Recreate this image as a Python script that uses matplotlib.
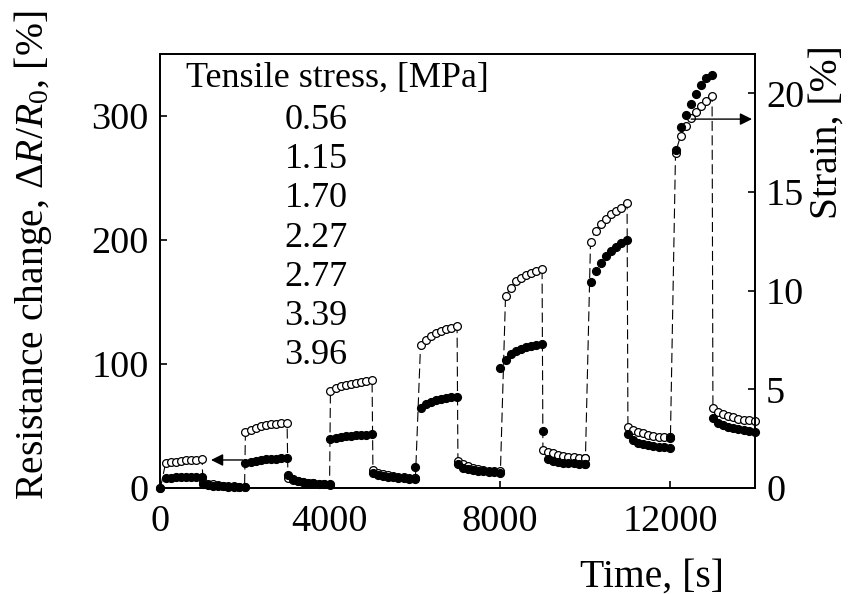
import numpy as np
import matplotlib.pyplot as plt

plt.rcParams['font.family'] = 'Liberation Serif'
plt.rcParams['mathtext.fontset'] = 'custom'
plt.rcParams['mathtext.rm'] = 'Liberation Serif'
plt.rcParams['mathtext.it'] = 'Liberation Serif:italic'
plt.rcParams['font.size'] = 27.5

# stress switched on / off every 1000 s, 9 readings per step
step_start = [0, 1000, 2000, 3000, 4000, 5000, 6000,
              7000, 8000, 9000, 10000, 11000, 12000, 13000]
sample_offset = [10, 130, 250, 370, 490, 610, 730, 850, 990]

stress_mpa = ['0.56', '1.15', '1.70', '2.27', '2.77', '3.39', '3.96']

# resistance change dR/R0 [%]
resistance = [
    0, 7.8, 8.2, 8.5, 8.7, 8.8, 8.9, 9.0, 9.1,                  # 0.56 on
    3.0, 2.4, 2.0, 1.7, 1.4, 1.2, 1.0, 0.8, 0.6,                # off
    20.4, 21.3, 22.0, 22.6, 23.0, 23.3, 23.6, 23.8, 24.0,       # 1.15 on
    10.5, 7.0, 5.5, 4.8, 4.2, 3.8, 3.5, 3.2, 3.0,               # off
    39.3, 40.5, 41.3, 41.8, 42.2, 42.5, 42.8, 43.0, 43.3,       # 1.70 on
    12.3, 10.5, 9.6, 9.0, 8.5, 8.1, 7.7, 7.4, 7.0,              # off
    17.0, 64.8, 67.5, 69.5, 70.8, 71.8, 72.6, 73.2, 73.6,       # 2.27 on
    19.1, 16.5, 15.3, 14.5, 13.9, 13.4, 13.0, 12.6, 12.3,       # off
    97.0, 103.2, 108.0, 110.5, 112.3, 113.6, 114.7, 115.6, 116.4,  # 2.77 on
    46.0, 23.1, 21.8, 21.0, 20.5, 20.1, 19.8, 19.5, 19.1,       # off
    19.5, 166.0, 175.0, 181.7, 187.0, 191.0, 194.5, 197.6, 200.3,  # 3.39 on
    43.5, 38.5, 36.5, 35.2, 34.3, 33.7, 33.2, 32.8, 32.5,       # off
    40.0, 272.3, 291.0, 300.6, 310.0, 317.5, 325.0, 331.0, 333.0,  # 3.96 on
    56.7, 52.5, 50.5, 49.0, 48.0, 47.2, 46.5, 45.9, 45.4,       # off
]

# strain [%]
strain = [
    0, 1.25, 1.30, 1.34, 1.37, 1.40, 1.42, 1.44, 1.46,
    0.30, 0.22, 0.18, 0.15, 0.12, 0.10, 0.08, 0.06, 0.05,
    2.85, 2.95, 3.05, 3.12, 3.18, 3.22, 3.26, 3.29, 3.32,
    0.50, 0.40, 0.34, 0.30, 0.26, 0.23, 0.20, 0.18, 0.16,
    4.90, 5.05, 5.15, 5.22, 5.28, 5.33, 5.38, 5.42, 5.46,
    0.90, 0.78, 0.70, 0.65, 0.60, 0.57, 0.54, 0.51, 0.49,
    0.50, 7.23, 7.50, 7.70, 7.85, 7.95, 8.05, 8.12, 8.20,
    1.37, 1.20, 1.10, 1.02, 0.96, 0.92, 0.88, 0.85, 0.82,
    0.85, 9.73, 10.13, 10.47, 10.65, 10.80, 10.92, 11.00, 11.08,
    1.95, 1.84, 1.75, 1.68, 1.62, 1.58, 1.55, 1.52, 1.50,
    1.50, 12.46, 13.05, 13.39, 13.66, 13.90, 14.06, 14.20, 14.43,
    3.07, 2.95, 2.85, 2.77, 2.70, 2.65, 2.61, 2.58, 2.56,
    2.56, 17.00, 17.86, 18.35, 18.78, 19.08, 19.34, 19.60, 19.85,
    4.03, 3.85, 3.74, 3.65, 3.58, 3.52, 3.47, 3.43, 3.40,
]

time = np.concatenate([s + np.array(sample_offset) for s in step_start])

fig = plt.figure(figsize=(8.5, 5.94), dpi=100)
ax = fig.add_axes([160 / 850, 106 / 594, 595 / 850, 434 / 594])
ax2 = ax.twinx()
# filled (resistance) markers sit on top of the open (strain) ones
ax.set_zorder(ax2.get_zorder() + 1)
ax.patch.set_visible(False)

ax.plot(time, resistance, 'o', color='k', ms=5.6, clip_on=False)
ax2.plot(time, strain, color='k', lw=0.8, dashes=(9, 4),
         marker='o', mfc='white', mec='k', ms=5.6, mew=0.9, clip_on=False)

ax.set_xlim(0, 14000)
ax.set_ylim(0, 350)
ax2.set_ylim(0, 22)
ax.set_xticks([0, 4000, 8000, 12000])
ax.set_yticks([0, 100, 200, 300])
ax2.set_yticks([0, 5, 10, 15, 20])

ax.tick_params(direction='in', length=5, width=1.2, pad=8)
ax.tick_params(axis='x', pad=12)
ax2.tick_params(direction='in', length=5, width=1.2, pad=8)
for a in (ax, ax2):
    for sp in a.spines.values():
        sp.set_linewidth(1.3)

ax.set_ylabel(r'Resistance change, $\Delta R/R_{\mathit{0}}$, [%]',
              fontsize=28.5, ha='center', va='center')
ax.yaxis.set_label_coords(-0.213, 0.535)
ax2.set_ylabel('Strain, [%]', fontsize=28.5, rotation=90,
               ha='center', va='center', rotation_mode='default')
ax2.yaxis.set_label_coords(1.122, 0.819)
ax.set_xlabel('Time, [s]', fontsize=28.5, ha='center', va='center')
ax.xaxis.set_label_coords(0.827, -0.205)

# arrows pointing each series to its axis
ax.annotate('', xy=(1200, 22.6), xytext=(1940, 22.6),
            arrowprops=dict(arrowstyle='-|>', color='k', lw=1,
                            mutation_scale=18, shrinkA=0, shrinkB=0))
ax2.annotate('', xy=(13930, 18.7), xytext=(12500, 18.7),
             arrowprops=dict(arrowstyle='-|>', color='k', lw=1,
                             mutation_scale=18, shrinkA=0, shrinkB=0))

ax.text(0.044, 0.945, 'Tensile stress, [MPa]', fontsize=26,
        transform=ax.transAxes, ha='left', va='center')
for i, s in enumerate(stress_mpa):
    ax.text(0.262, 0.846 - i * 0.0900, s, fontsize=26,
            transform=ax.transAxes, ha='center', va='center')

fig.savefig('out.png', dpi=100)
